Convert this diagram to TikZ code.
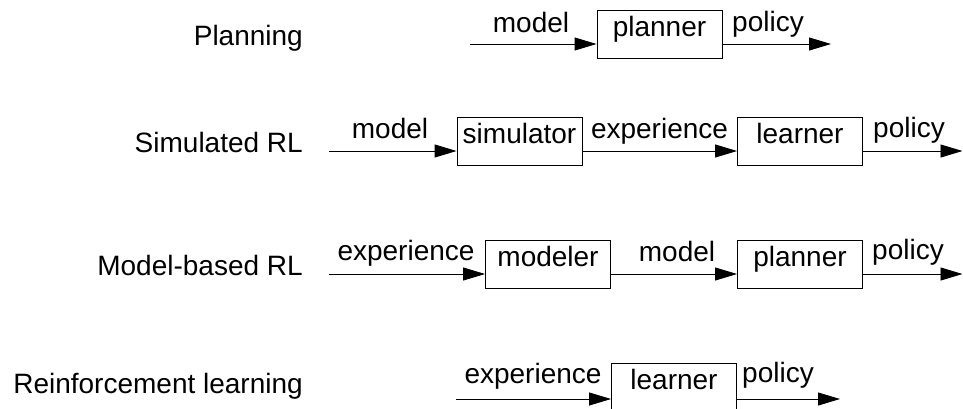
\documentclass[tikz,border=0pt]{standalone}
\usepackage{fontspec}
\setmainfont{Liberation Sans}
\usetikzlibrary{arrows.meta}
\begin{document}
\begin{tikzpicture}[x=1pt,y=-1pt,
  every node/.style={font=\fontsize{28}{33}\selectfont},
  blk/.style={draw, line width=0.9pt, minimum width=125pt, minimum height=48pt,
              inner sep=0pt, text height=20pt, text depth=16pt},
  flow/.style={line width=0.9pt, -{Triangle[length=22pt,width=13pt]}},
  rowlbl/.style={anchor=base east, inner sep=0pt},
  lbl/.style={anchor=base, inner sep=0pt},
  outlbl/.style={anchor=base west, inner sep=0pt}]
\useasboundingbox (0,0) rectangle (963,408);

% Planning
\node[rowlbl] (r1) at (303,45) {Planning};
\node[blk] (pl1) at (659.5,34) {planner};
\coordinate (in1) at (470,44);
\coordinate (out1) at (831,44);
\draw[flow] (in1) -- (in1 -| pl1.west);
\draw[flow] (pl1.east |- out1) -- (out1);
\node[lbl] (m1) at (531,32) {model};
\node[outlbl] (po1) at (732,31) {policy};

% Simulated RL
\node[rowlbl] (r2) at (303,152) {Simulated RL};
\node[blk] (sim) at (519.5,141) {simulator};
\node[blk] (le2) at (800,141) {learner};
\coordinate (in2) at (329,151);
\coordinate (out2) at (962.5,151);
\draw[flow] (in2) -- (in2 -| sim.west);
\draw[flow] (sim.east |- in2) -- (le2.west |- in2);
\draw[flow] (le2.east |- out2) -- (out2);
\node[lbl] (m2) at (390,138) {model};
\node[lbl] (e2) at (659.5,138) {experience};
\node[outlbl] (po2) at (873,137) {policy};

% Model-based RL
\node[rowlbl] (r3) at (303,275) {Model-based RL};
\node[blk] (mod) at (548,264) {modeler};
\node[blk] (pl3) at (800,264) {planner};
\coordinate (in3) at (329,274);
\coordinate (out3) at (962.5,274);
\draw[flow] (in3) -- (in3 -| mod.west);
\draw[flow] (mod.east |- in3) -- (pl3.west |- in3);
\draw[flow] (pl3.east |- out3) -- (out3);
\node[lbl] (e3) at (406,260) {experience};
\node[lbl] (m3) at (677,261) {model};
\node[outlbl] (po3) at (872,259) {policy};

% Reinforcement learning
\node[rowlbl] (r4) at (303,393) {Reinforcement learning};
\node[blk] (le4) at (674,387) {learner};
\coordinate (in4) at (456,399);
\coordinate (out4) at (840,399);
\draw[flow] (in4) -- (in4 -| le4.west);
\draw[flow] (le4.east |- out4) -- (out4);
\node[lbl] (e4) at (533,383) {experience};
\node[outlbl] (po4) at (742,382) {policy};
\end{tikzpicture}
\end{document}
